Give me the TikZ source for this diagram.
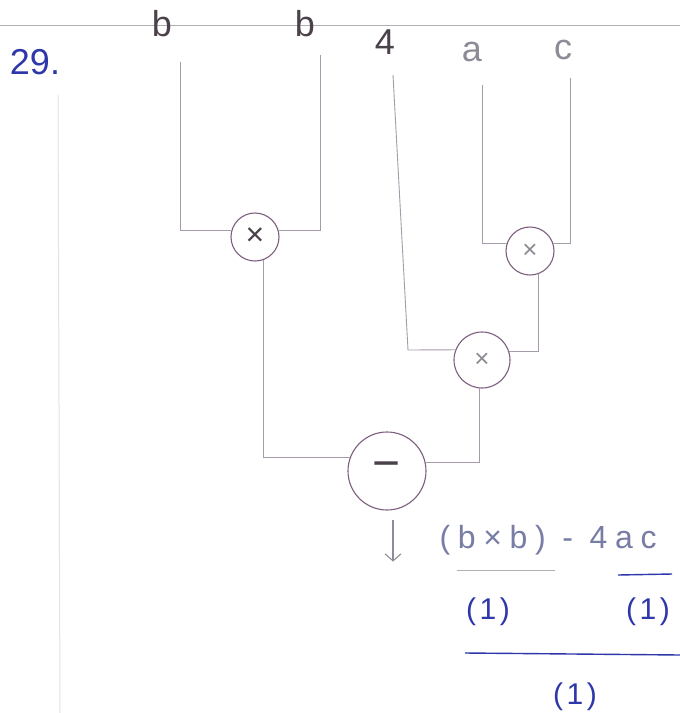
\documentclass[tikz,border=0pt]{standalone}
\usepackage{fontspec}
\setmainfont{Liberation Sans}
\usetikzlibrary{arrows.meta}
\definecolor{wire}{RGB}{165,155,170}
\definecolor{ring}{RGB}{125,95,125}
\definecolor{pencil}{RGB}{75,65,75}
\definecolor{faint}{RGB}{140,140,150}
\definecolor{ink}{RGB}{45,55,170}
\definecolor{inkgrey}{RGB}{120,125,165}
\definecolor{ruleline}{RGB}{175,175,180}
\definecolor{marginline}{RGB}{228,225,231}
\begin{document}
\begin{tikzpicture}[x=1pt,y=-1pt,
  wireline/.style={draw=wire,line width=0.9pt},
  opnode/.style={circle,draw=ring,line width=1.1pt,inner sep=0pt},
  lbl/.style={font=\fontsize{36}{36}\selectfont},
  inklbl/.style={text=ink,font=\fontsize{30}{30}\selectfont\addfontfeatures{LetterSpace=12}},
]
\useasboundingbox[fill=white] (0,0) rectangle (680,713);
% ruled paper
\draw[ruleline,line width=1pt] (0,25) -- (680,25);
\draw[marginline,line width=1pt] (58,95) -- (60,713);
% labels
\node[lbl,text=ink] (num) at (35,62) {29.};
\node[lbl,text=pencil] (lb1) at (162,24) {b};
\node[lbl,text=pencil] (lb2) at (305,24) {b};
\node[lbl,text=pencil] (l4) at (385,42) {4};
\node[lbl,text=faint] (la) at (472,52) {a};
\node[lbl,text=faint] (lc) at (563,50) {c};
% operators
\node[opnode,minimum size=48pt,text=pencil,font=\fontsize{32}{32}\selectfont] (m1) at (255,237) {×};
\node[opnode,minimum size=48pt,text=faint,font=\fontsize{26}{26}\selectfont] (m2) at (530,251) {×};
\node[opnode,minimum size=56pt,text=faint,font=\fontsize{26}{26}\selectfont] (m3) at (482,360) {×};
\node[opnode,minimum size=78pt,text=pencil,font=\fontsize{48}{48}\selectfont] (sub) at (387,471) {−};
% wire start points
\coordinate (b1top) at (180,62);
\coordinate (b2top) at (320,55);
\coordinate (ftop) at (393,75);
\coordinate (atop) at (482,85);
\coordinate (ctop) at (570,78);
\coordinate (fbend) at (408,350);
% wires
\draw[wireline] (b1top) |- (m1.165);
\draw[wireline] (b2top) |- (m1.15);
\draw[wireline] (atop) |- (m2.163);
\draw[wireline] (ctop) |- (m2.17);
\draw[wireline] (ftop) -- (fbend) -- (m3.159);
\draw[wireline] (m2.-70) |- (m3.18);
\draw[wireline] (m1.-70) |- (sub.160);
\draw[wireline] (m3.-95) |- (sub.12);
% output arrow
\draw[draw=faint,line width=1.1pt,-{Straight Barb[length=7pt,width=16pt]}] ([shift={(6,9)}]sub.south) -- ++(0,42) coordinate (arrend);
% result expression
\node[anchor=west,text=inkgrey,font=\fontsize{32}{32}\selectfont\addfontfeatures{LetterSpace=24}] (expr) at (436,540) {(b×b) - 4ac};
\draw[draw=faint!70,line width=1pt] (457,570) -- (555,570);
\draw[ink,line width=1.4pt] (618,575) -- (672,574);
\node[inklbl] (one1) at (488,612) {(1)};
\node[inklbl] (one2) at (648,612) {(1)};
\draw[ink,line width=1.4pt] (465,653) -- (680,655);
\node[inklbl] (one3) at (575,697) {(1)};
\end{tikzpicture}
\end{document}
